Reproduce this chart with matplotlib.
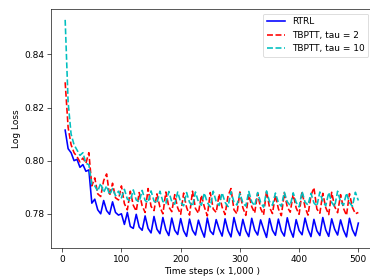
import numpy as np
import matplotlib
matplotlib.use("Agg")
import matplotlib.pyplot as plt

# loss every 5 (x 1,000) steps, starting at 5
rtrl = [0.8115, 0.8045, 0.8030, 0.8000, 0.8005, 0.7975, 0.7985, 0.7960, 0.7965, 0.7840,
        0.7855, 0.7815, 0.7800, 0.7850, 0.7812, 0.7798, 0.7845, 0.7805, 0.7795, 0.7800,
        0.7760, 0.7805, 0.7752, 0.7745, 0.7798, 0.7750, 0.7738, 0.7792, 0.7745, 0.7728,
        0.7790, 0.7742, 0.7725, 0.7786, 0.7740, 0.7718, 0.7784, 0.7738, 0.7722, 0.7782,
        0.7736, 0.7715, 0.7780, 0.7738, 0.7720, 0.7776, 0.7740, 0.7712, 0.7784, 0.7735,
        0.7722, 0.7778, 0.7742, 0.7716, 0.7781, 0.7737, 0.7713, 0.7786, 0.7741, 0.7718,
        0.7779, 0.7736, 0.7714, 0.7783, 0.7739, 0.7720, 0.7777, 0.7742, 0.7711, 0.7782,
        0.7738, 0.7719, 0.7780, 0.7735, 0.7716, 0.7785, 0.7740, 0.7712, 0.7778, 0.7737,
        0.7721, 0.7784, 0.7741, 0.7714, 0.7779, 0.7736, 0.7718, 0.7786, 0.7739, 0.7715,
        0.7781, 0.7742, 0.7720, 0.7777, 0.7738, 0.7713, 0.7783, 0.7740, 0.7717, 0.7765]

tbptt2 = [0.8295, 0.8125, 0.8060, 0.8030, 0.8015, 0.7995, 0.8010, 0.7990, 0.8030, 0.7905,
          0.7935, 0.7875, 0.7865, 0.7925, 0.7950, 0.7868, 0.7915, 0.7860, 0.7852, 0.7905,
          0.7838, 0.7815, 0.7885, 0.7832, 0.7810, 0.7880, 0.7830, 0.7805, 0.7895, 0.7828,
          0.7812, 0.7875, 0.7825, 0.7800, 0.7882, 0.7826, 0.7808, 0.7872, 0.7822, 0.7798,
          0.7878, 0.7824, 0.7795, 0.7885, 0.7820, 0.7802, 0.7870, 0.7826, 0.7792, 0.7880,
          0.7818, 0.7805, 0.7875, 0.7825, 0.7797, 0.7868, 0.7895, 0.7815, 0.7800, 0.7882,
          0.7823, 0.7794, 0.7873, 0.7827, 0.7803, 0.7878, 0.7820, 0.7796, 0.7886, 0.7824,
          0.7801, 0.7871, 0.7819, 0.7793, 0.7879, 0.7826, 0.7806, 0.7874, 0.7822, 0.7798,
          0.7883, 0.7825, 0.7795, 0.7869, 0.7898, 0.7818, 0.7802, 0.7877, 0.7823, 0.7797,
          0.7881, 0.7827, 0.7804, 0.7872, 0.7820, 0.7794, 0.7876, 0.7824, 0.7800, 0.7805]

tbptt10 = [0.8530, 0.8220, 0.8100, 0.8060, 0.8040, 0.8020, 0.8030, 0.7990, 0.7985, 0.7910,
           0.7905, 0.7885, 0.7915, 0.7880, 0.7905, 0.7872, 0.7895, 0.7868, 0.7885, 0.7860,
           0.7892, 0.7855, 0.7848, 0.7890, 0.7852, 0.7845, 0.7888, 0.7850, 0.7842, 0.7886,
           0.7848, 0.7840, 0.7885, 0.7846, 0.7838, 0.7884, 0.7845, 0.7836, 0.7882, 0.7844,
           0.7830, 0.7880, 0.7843, 0.7828, 0.7882, 0.7845, 0.7832, 0.7878, 0.7842, 0.7826,
           0.7885, 0.7846, 0.7831, 0.7879, 0.7843, 0.7827, 0.7883, 0.7844, 0.7833, 0.7877,
           0.7841, 0.7829, 0.7884, 0.7845, 0.7830, 0.7880, 0.7843, 0.7825, 0.7886, 0.7846,
           0.7832, 0.7878, 0.7842, 0.7828, 0.7881, 0.7845, 0.7831, 0.7879, 0.7843, 0.7826,
           0.7884, 0.7844, 0.7833, 0.7877, 0.7841, 0.7829, 0.7882, 0.7846, 0.7830, 0.7880,
           0.7843, 0.7827, 0.7885, 0.7845, 0.7832, 0.7878, 0.7842, 0.7828, 0.7881, 0.7850]

dpi = 57.8125
plt.rcParams['font.size'] = 11.3
plt.rcParams['lines.linewidth'] = 2.0
plt.rcParams['xtick.major.size'] = 4.5
plt.rcParams['ytick.major.size'] = 4.5
fig = plt.figure(figsize=(370 / dpi, 280 / dpi), dpi=dpi)
ax = fig.add_axes([0.1365, 0.1132, 0.8716, 0.8547])

for y, style, label in [(rtrl, 'b-', 'RTRL'),
                        (tbptt2, 'r--', 'TBPTT, tau = 2'),
                        (tbptt10, 'c--', 'TBPTT, tau = 10')]:
    x = 5 * np.arange(1, len(y) + 1)
    ax.plot(x, y, style, label=label)

ax.set_xlabel("Time steps (x 1,000 )")
ax.set_ylabel("Log Loss")
ax.set_yticks([0.78, 0.80, 0.82, 0.84])
ax.legend(loc='upper right')

fig.savefig("out.png", dpi=dpi)
